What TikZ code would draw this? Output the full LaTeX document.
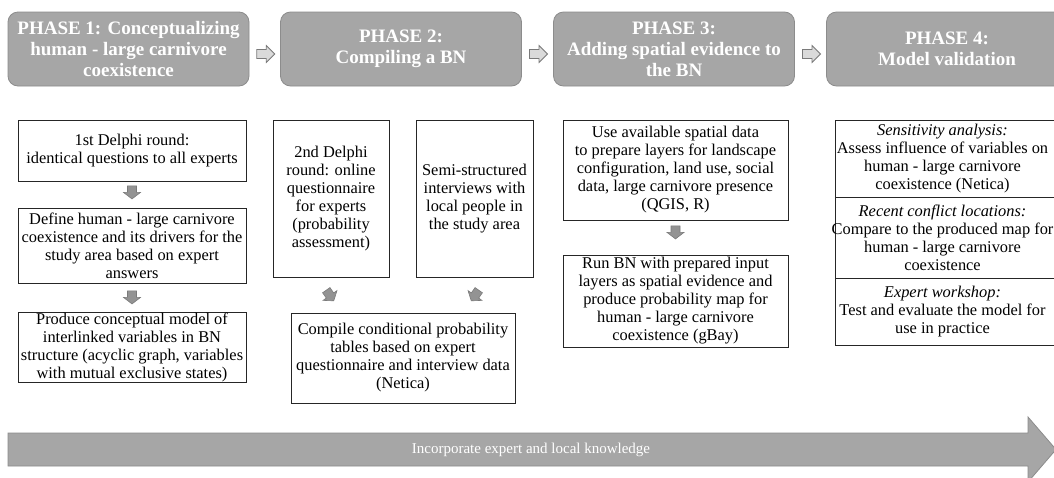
\documentclass[tikz,border=0pt]{standalone}
\usepackage{fontspec}
\setmainfont{Liberation Serif}
\usetikzlibrary{calc}
\definecolor{hdrfill}{HTML}{A6A6A6}
\definecolor{hdrline}{HTML}{8C8C8C}
\definecolor{arrfill}{HTML}{939393}
\definecolor{arrline}{HTML}{7A7A7A}
\definecolor{lightarr}{HTML}{DADADA}
\tikzset{
  hdr/.style={draw=hdrline, fill=hdrfill, rounded corners=10pt, line width=0.8pt,
    minimum width=241pt, minimum height=74pt, inner sep=0pt, align=center,
    text=white, font=\bfseries\fontsize{19}{21}\selectfont},
  txtbox/.style={draw=black!85, line width=1pt, inner sep=0pt, align=center,
    font=\fontsize{16.4}{18}\selectfont},
  plaintxt/.style={inner sep=0pt, align=center, font=\fontsize{16.4}{18}\selectfont},
  boxline/.style={draw=black!85, line width=1pt},
  bigarr/.pic={\path[pic actions] (-9,-4.5) -- (0.5,-4.5) -- (0.5,-8.5) -- (9,0) -- (0.5,8.5) -- (0.5,4.5) -- (-9,4.5) -- cycle;},
  smallarr/.pic={\path[pic actions] (-6.5,-4.5) -- (0,-4.5) -- (0,-8.5) -- (6.5,0) -- (0,8.5) -- (0,4.5) -- (-6.5,4.5) -- cycle;},
  darr/.style={draw=arrline, fill=arrfill, line width=0.6pt},
  rarr/.style={draw=arrline, fill=lightarr, line width=0.8pt},
  bandtext/.style={text=white, inner sep=0pt, font=\fontsize{15}{17}\selectfont}
}
\begin{document}
\begin{tikzpicture}[x=1pt,y=-1pt]
\useasboundingbox (0,0) rectangle (1054,477);
\fill[white] (0,0) rectangle (1054,477);

% headers
\node[hdr] (h1) at (128.5,49) {PHASE 1: Conceptualizing\\human - large carnivore\\coexistence};
\node[hdr] (h2) at (401,49) {PHASE 2:\\Compiling a BN};
\node[hdr] (h3) at (674,49) {PHASE 3:\\Adding spatial evidence to\\the BN};
\node[hdr] (h4) at (947,49) {PHASE 4:\\Model validation};

\pic[rarr] at ($(h1.east)!0.5!(h2.west)+(1,5)$) {bigarr};
\pic[rarr] at ($(h2.east)!0.5!(h3.west)+(1,5)$) {bigarr};
\pic[rarr] at ($(h3.east)!0.5!(h4.west)+(1,5)$) {bigarr};

% phase 1 column
\node[txtbox, minimum width=228pt, minimum height=61pt] (a) at (132,150.5)
  {1st Delphi round:\\identical questions to all experts};
\node[txtbox, minimum width=228pt, minimum height=75pt] (b) at (132,245.5)
  {Define human - large carnivore\\coexistence and its drivers for the\\study area based on expert\\answers};
\node[txtbox, minimum width=228pt, minimum height=69pt] (c) at (132,347.5)
  {Produce conceptual model of\\interlinked variables in BN\\structure (acyclic graph, variables\\with mutual exclusive states)};
\pic[darr, rotate=-90] at ($(a.south)!0.42!(b.north)$) {smallarr};
\pic[darr, rotate=-90] at ($(b.south)!0.48!(c.north)$) {smallarr};

% phase 2 column
\node[txtbox, minimum width=116pt, minimum height=157pt] (d) at (331,198.5)
  {2nd Delphi\\round: online\\questionnaire\\for experts\\(probability\\assessment)};
\node[txtbox, minimum width=117pt, minimum height=157pt] (e) at (474.5,198.5)
  {Semi-structured\\interviews with\\local people in\\the study area};
\node[txtbox, minimum width=224pt, minimum height=90pt] (f) at (403,358)
  {Compile conditional probability\\tables based on expert\\questionnaire and interview data\\(Netica)};
\pic[darr, rotate=-55] at ($(d.south)+(-1,18)$) {smallarr};
\pic[darr, rotate=-125] at ($(e.south)+(0.5,18)$) {smallarr};

% phase 3 column
\node[txtbox, minimum width=225pt, minimum height=100pt] (g) at (675.5,170)
  {Use available spatial data\\to prepare layers for landscape\\configuration, land use, social\\data, large carnivore presence\\(QGIS, R)};
\node[txtbox, minimum width=225pt, minimum height=92pt] (h) at (675.5,301)
  {Run BN with prepared input\\layers as spatial evidence and\\produce probability map for\\human - large carnivore\\coexistence (gBay)};
\pic[darr, rotate=-90] at ($(g.south)!0.35!(h.north)$) {smallarr};

% phase 4 column (box runs past the right edge)
\draw[boxline] (1075,120) -- (835,120) -- (835,345) -- (1075,345);
\draw[boxline] (835,197) -- (1075,197);
\draw[boxline] (835,278) -- (1075,278);
\node[plaintxt] (i1) at (942.5,158.5)
  {\textit{Sensitivity analysis:}\\Assess influence of variables on\\human - large carnivore\\coexistence (Netica)};
\node[plaintxt] (i2) at (942.5,237.5)
  {\textit{Recent conflict locations:}\\Compare to the produced map for\\human - large carnivore\\coexistence};
\node[plaintxt] (i3) at (942.5,311.5)
  {\textit{Expert workshop:}\\Test and evaluate the model for\\use in practice};

% bottom band arrow
\path[fill=hdrfill, draw=hdrline, line width=0.8pt]
  (8,433) -- (1028,433) -- (1028,417) -- (1056,449.5) -- (1028,482) -- (1028,466) -- (8,466) -- cycle;
\node[bandtext] (band) at (531,449.5) {Incorporate expert and local knowledge};
\end{tikzpicture}
\end{document}
